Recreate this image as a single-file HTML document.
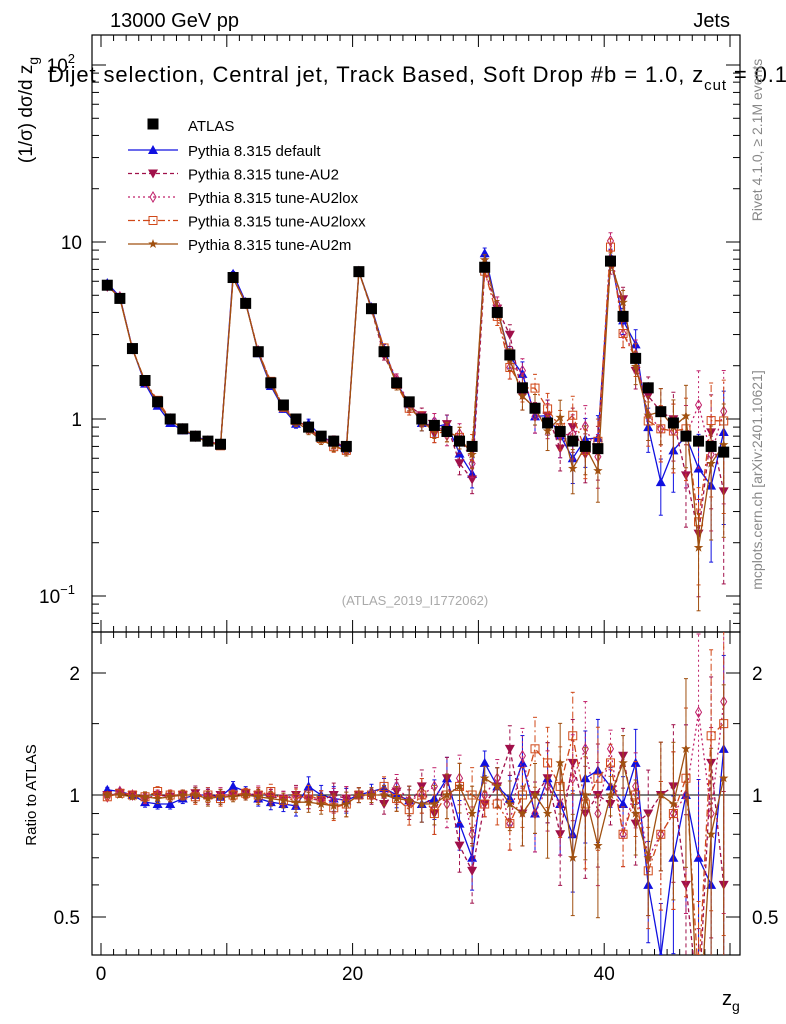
<!DOCTYPE html>
<html><head><meta charset="utf-8"><style>
html,body{margin:0;background:#fff;overflow:hidden;width:786px;height:1024px}
svg{font-family:"Liberation Sans",sans-serif;display:block}
</style></head><body>
<svg id="c" width="786" height="1024" xmlns="http://www.w3.org/2000/svg">
<defs>
<clipPath id="cm"><rect x="92" y="35" width="648" height="597"/></clipPath>
<clipPath id="cr"><rect x="92" y="632" width="648" height="323"/></clipPath>
</defs>
<text x="110" y="27" font-size="20">13000 GeV pp</text>
<text x="730" y="27" font-size="20" text-anchor="end">Jets</text>
<text x="48" y="82" font-size="22" letter-spacing="0.9">Dijet selection, Central jet, Track Based, Soft Drop #b = 1.0, z<tspan dy="8" font-size="15">cut</tspan><tspan dy="-8"> = 0.1</tspan></text>
<text transform="translate(762,140) rotate(-90)" font-size="14" fill="#888" text-anchor="middle">Rivet 4.1.0, ≥ 2.1M events</text>
<text transform="translate(762,480) rotate(-90)" font-size="14" fill="#888" text-anchor="middle">mcplots.cern.ch [arXiv:2401.10621]</text>
<text x="415" y="605" font-size="13" fill="#aaa" text-anchor="middle">(ATLAS_2019_I1772062)</text>
<text transform="translate(32,110) rotate(-90)" font-size="19" text-anchor="middle">(1/σ) dσ/d z<tspan dy="6" font-size="14">g</tspan></text>
<text transform="translate(36,795) rotate(-90)" font-size="15" text-anchor="middle">Ratio to ATLAS</text>
<text x="722" y="1005" font-size="20">z<tspan dy="6" font-size="14">g</tspan></text>
<g id="g"></g>
</svg>
<script>
const xs=[];for(let i=0;i<50;i++)xs.push(i+0.5);
const atlas=[5.7,4.8,2.5,1.65,1.25,1.0,0.88,0.8,0.75,0.72,6.3,4.5,2.4,1.6,1.2,1.0,0.9,0.8,0.75,0.7,6.8,4.2,2.4,1.6,1.25,1.0,0.92,0.85,0.75,0.7,7.2,4.0,2.3,1.5,1.15,0.95,0.85,0.75,0.7,0.68,7.8,3.8,2.2,1.5,1.1,0.95,0.8,0.75,0.7,0.65];
const rDefault=[1.03,1.02,1.0,0.96,0.95,0.95,0.98,1.0,1.0,0.99,1.05,1.02,0.98,0.96,0.95,0.94,1.05,1.0,0.98,0.97,1.0,1.02,1.04,1.0,0.97,0.95,0.98,1.1,0.85,0.7,1.2,1.05,0.98,1.2,0.9,1.1,0.95,0.8,1.1,1.15,1.05,0.95,1.2,0.6,0.4,0.7,1.0,0.7,0.6,1.3];
const rAU2=[1.0,1.01,1.0,0.98,1.0,0.99,1.0,1.01,0.99,1.0,1.0,1.01,1.0,0.99,0.98,1.0,0.98,0.97,1.0,0.98,1.0,0.99,0.95,1.02,0.95,1.05,0.9,1.1,0.75,0.65,0.95,1.05,1.3,0.9,1.0,1.1,0.8,1.2,0.9,1.0,0.95,1.25,0.85,0.9,1.0,1.05,0.6,0.3,1.2,0.6];
const rAU2lox=[0.99,1.02,1.0,0.98,1.0,1.0,1.0,1.0,1.0,1.0,1.0,1.0,1.01,1.0,0.98,0.99,0.98,0.97,0.97,0.98,1.0,1.0,1.0,1.05,0.97,1.0,1.05,0.95,1.1,0.8,1.0,1.1,0.85,1.25,0.9,1.05,0.95,1.1,1.3,0.9,1.3,0.8,1.05,0.7,0.8,0.9,1.0,1.6,0.9,1.7];
const rAU2loxx=[0.99,1.01,1.0,0.99,1.02,1.0,1.0,0.99,1.0,0.98,1.0,1.01,1.0,1.02,0.97,0.98,1.0,0.97,0.93,0.95,1.0,1.0,1.05,0.98,0.92,1.0,0.9,1.0,1.05,1.0,0.95,0.95,0.85,1.0,1.3,1.2,1.05,1.4,0.95,1.1,1.2,0.8,1.0,0.65,0.8,0.9,1.1,0.35,1.4,1.5];
const rAU2m=[1.0,1.0,0.99,0.99,0.98,0.99,1.0,1.0,0.98,0.99,0.99,1.0,0.99,0.98,0.97,0.96,0.96,0.95,0.94,0.95,1.0,1.0,1.0,0.98,0.97,0.95,0.95,1.0,1.05,0.9,1.1,1.05,0.95,0.9,1.0,0.9,1.2,0.7,1.0,0.75,1.0,1.2,0.9,0.7,1.0,0.95,1.3,0.25,0.8,1.1];
const relErr=[0.01,0.01,0.01,0.02,0.02,0.02,0.02,0.03,0.03,0.03,0.02,0.02,0.03,0.03,0.03,0.04,0.04,0.04,0.05,0.05,0.03,0.03,0.04,0.05,0.06,0.07,0.08,0.09,0.1,0.12,0.05,0.08,0.1,0.12,0.14,0.16,0.18,0.2,0.22,0.24,0.08,0.12,0.15,0.2,0.25,0.3,0.35,0.4,0.45,0.5];
const xTicks=[0,20,40];
const seriesNames=["Pythia 8.315 default","Pythia 8.315 tune-AU2","Pythia 8.315 tune-AU2lox","Pythia 8.315 tune-AU2loxx","Pythia 8.315 tune-AU2m"];

const X=v=>101+(v)*12.58;
const Y=v=>419-Math.log10(v)*177;
const R=v=>795-Math.log2(v)*122;
const NS="http://www.w3.org/2000/svg";
const g=document.getElementById('g');
function el(t,a,p){const e=document.createElementNS(NS,t);for(const k in a)e.setAttribute(k,a[k]);(p||g).appendChild(e);return e;}
const fm=el('rect',{x:92,y:35,width:648,height:597,fill:'none',stroke:'#000','stroke-width':1.2});


const fr=el('rect',{x:92,y:632,width:648,height:323,fill:'none',stroke:'#000','stroke-width':1.2});


el('line',{x1:92,x2:740,y1:R(1),y2:R(1),stroke:'#000'});
for(let v=0;v<=50;v++){const L=v%10==0?12:6;for(const [y0,d] of [[632,-1],[35,1],[955,-1],[632,1]]){el('line',{x1:X(v),x2:X(v),y1:y0,y2:y0+d*L,stroke:'#000'});}}
xTicks.forEach(v=>{const t=el('text',{x:X(v),y:980,'font-size':19,'text-anchor':'middle'});t.textContent=v;

});
for(let d=-2;d<=2;d++)for(let m=1;m<10;m++){const v=m*Math.pow(10,d);const y=Y(v);if(y<35||y>632)continue;const L=m==1?14:7;
el('line',{x1:92,x2:92+L,y1:y,y2:y,stroke:'#000'});el('line',{x1:740,x2:740-L,y1:y,y2:y,stroke:'#000'});}
[[100,'10','2'],[10,'10',''],[1,'1',''],[0.1,'10','−1']].forEach(([v,b,e])=>{const t=el('text',{x:e?75:82,y:Y(v)+7,'font-size':19,'text-anchor':'end'});t.textContent=b;
if(e){const s=el('tspan',{dy:-9,'font-size':13},t);s.textContent=e;}

});
[0.4,0.5,0.6,0.7,0.8,0.9,1,1.5,2].forEach(v=>{const y=R(v);if(y<632||y>955)return;const L=(v==0.5||v==1||v==2)?14:7;
el('line',{x1:92,x2:92+L,y1:y,y2:y,stroke:'#000'});el('line',{x1:740,x2:740-L,y1:y,y2:y,stroke:'#000'});});
[[2,'2'],[1,'1'],[0.5,'0.5']].forEach(([v,s])=>{for(const [x,a] of [[80,'end'],[752,'start']]){const t=el('text',{x:x,y:R(v)+7,'font-size':19,'text-anchor':a});t.textContent=s;

}});

function marker(p,type,x,y,c){
 if(type=='sq')el('rect',{x:x-5.5,y:y-5.5,width:11,height:11,fill:c},p);
 else if(type=='tu')el('polygon',{points:`${x},${y-5} ${x-5},${y+4} ${x+5},${y+4}`,fill:c},p);
 else if(type=='td')el('polygon',{points:`${x},${y+5} ${x-5},${y-4} ${x+5},${y-4}`,fill:c},p);
 else if(type=='di')el('polygon',{points:`${x},${y-5} ${x+3},${y} ${x},${y+5} ${x-3},${y}`,fill:'none',stroke:c},p);
 else if(type=='os')el('rect',{x:x-4,y:y-4,width:8,height:8,fill:'none',stroke:c},p);
 else if(type=='st'){let s='';for(let i=0;i<10;i++){const r=i%2?2:5,a=-Math.PI/2+i*Math.PI/5;s+=`${x+r*Math.cos(a)},${y+r*Math.sin(a)} `;}el('polygon',{points:s,fill:c},p);}
}
const series=[
 {n:'default',r:rDefault,c:'#1010e0',m:'tu',d:''},
 {n:'au2',r:rAU2,c:'#a0104a',m:'td',d:'4,3'},
 {n:'au2lox',r:rAU2lox,c:'#c0206a',m:'di',d:'2,3'},
 {n:'au2loxx',r:rAU2loxx,c:'#d04818',m:'os',d:'7,3,2,3'},
 {n:'au2m',r:rAU2m,c:'#a05010',m:'st',d:''}];
const gm=el('g',{'clip-path':'url(#cm)'});const grr=el('g',{'clip-path':'url(#cr)'});
series.forEach((s,si)=>{
 const vals=atlas.map((a,i)=>a*s.r[i]);
 for(const [p,fy,vv,isR] of [[gm,Y,vals,false],[grr,R,s.r,true]]){
  const sg=el('g',{},p);
  
  
  const pts=xs.map((x,i)=>X(x)+','+fy(vv[i])).join(' ');
  el('polyline',{points:pts,fill:'none',stroke:s.c,'stroke-width':1.3,'stroke-dasharray':s.d},sg);
  xs.forEach((x,i)=>{const e=relErr[i]*1.4;const lo=Math.max(vv[i]*(1-e),1e-3),hi=vv[i]*(1+e);
   el('line',{x1:X(x),x2:X(x),y1:fy(lo),y2:fy(hi),stroke:s.c,'stroke-dasharray':s.d},sg);
   el('line',{x1:X(x)-2,x2:X(x)+2,y1:fy(lo),y2:fy(lo),stroke:s.c},sg);
   el('line',{x1:X(x)-2,x2:X(x)+2,y1:fy(hi),y2:fy(hi),stroke:s.c},sg);
   marker(sg,s.m,X(x),fy(vv[i]),s.c);});
 }
});
const ag=el('g',{},gm);


xs.forEach((x,i)=>marker(ag,'sq',X(x),Y(atlas[i]),'#000'));
const lg=el('g',{});


marker(lg,'sq',153,124,'#000');
let t=el('text',{x:188,y:131,'font-size':15},lg);t.textContent='ATLAS';
series.forEach((s,i)=>{const y=150+i*23.5;
 el('line',{x1:128,x2:178,y1:y,y2:y,stroke:s.c,'stroke-width':1.3,'stroke-dasharray':s.d},lg);
 marker(lg,s.m,153,y,s.c);
 const tt=el('text',{x:188,y:y+6,'font-size':15},lg);tt.textContent=seriesNames[i];
 
 });
</script>
</body></html>
